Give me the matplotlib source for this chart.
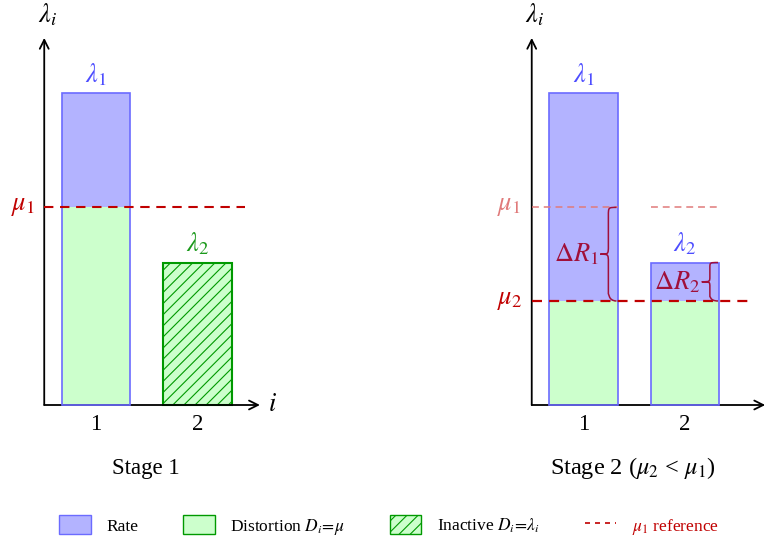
import matplotlib
matplotlib.use("Agg")
import matplotlib.pyplot as plt
from matplotlib.patches import Patch, PathPatch
from matplotlib.lines import Line2D
from matplotlib.path import Path

plt.rcParams['font.family'] = ['Liberation Serif', 'DejaVu Serif']
plt.rcParams['mathtext.fontset'] = 'stix'
plt.rcParams['hatch.linewidth'] = 0.8

# ---- data ----
categories = [1, 2]
tick_labels = ["1", "2"]
stage1_lambda = [3.0, 1.37]
stage1_mu = 1.9
stage2_lambda = [3.0, 1.37]
stage2_mu = 1.0
mu1_ref = 1.9
panel_titles = ["Stage 1", r"Stage 2 ($\mu_2$ < $\mu_1$)"]

# ---- styles ----
BLUE_FILL = '#b3b3ff'
BLUE_EDGE = '#6b6bff'
BLUE_TXT = '#4d4dff'
GREEN_FILL = '#ccffcc'
GREEN_EDGE = '#009900'
GREEN_TXT = '#1a991a'
RED = '#c00000'
RED_FADE = '#e07a7a'
BRACE = '#a0103a'
W = 0.67
X0 = 0.49
DASH = (0, (4.5, 3.2))
MFS = 19

fig = plt.figure(figsize=(7.78, 5.40), dpi=100)
ax1 = fig.add_axes([0, 0, 0.5, 1])
ax2 = fig.add_axes([0.5, 0, 0.5, 1])
ax1.set_xlim(1 - 96 / 101.5, 1 + 293 / 101.5)
ax2.set_xlim(1 - 194.5 / 101.5, 1 + 194.5 / 101.5)
for ax in (ax1, ax2):
    ax.set_ylim(-135 / 104, 405 / 104)
    ax.axis('off')


def axes_arrows(ax, xend, ilabel_x):
    ax.annotate('', xy=(xend, 0), xytext=(X0, 0),
                arrowprops=dict(arrowstyle='->', lw=1.3, color='black',
                                shrinkA=0, shrinkB=0, mutation_scale=16))
    ax.annotate('', xy=(X0, 3.53), xytext=(X0, 0),
                arrowprops=dict(arrowstyle='->', lw=1.3, color='black',
                                shrinkA=0, shrinkB=0, mutation_scale=16))
    ax.text(X0 + 0.03, 3.75, r'$\lambda_i$', fontsize=MFS, ha='center', va='center')
    ax.text(ilabel_x, 0, r'$i$', fontsize=MFS, ha='center', va='center', clip_on=False)
    for c, t in zip(categories, tick_labels):
        ax.text(c, -0.19, t, fontsize=16.5, ha='center', va='center')


def brace(ax, x, y0, y1, w=0.15, q=0.07, color=BRACE):
    ym = (y0 + y1) / 2
    xm = x - w / 2
    xt = x - w
    verts = [(x, y0), (xm, y0), (xm, y0 + q), (xm, y0 + q),
             (xm, ym - q),
             (xm, ym), (xm, ym), (xt, ym),
             (xm, ym), (xm, ym), (xm, ym + q),
             (xm, y1 - q),
             (xm, y1), (xm, y1), (x, y1)]
    codes = [Path.MOVETO, Path.CURVE4, Path.CURVE4, Path.CURVE4,
             Path.LINETO,
             Path.CURVE4, Path.CURVE4, Path.CURVE4,
             Path.CURVE4, Path.CURVE4, Path.CURVE4,
             Path.LINETO,
             Path.CURVE4, Path.CURVE4, Path.CURVE4]
    ax.add_patch(PathPatch(Path(verts, codes), fill=False, edgecolor=color, lw=1.1, zorder=6))
    return xt


# ---- Stage 1 ----
ax1.bar(categories[0], stage1_lambda[0], width=W, color=BLUE_FILL, edgecolor='none', zorder=2)
ax1.bar(categories[0], stage1_mu, width=W, color=GREEN_FILL, edgecolor='none', zorder=3)
ax1.bar(categories[0], stage1_lambda[0], width=W, fill=False, edgecolor=BLUE_EDGE, lw=1.2, zorder=4)
ax1.bar(categories[1], stage1_lambda[1], width=W, color=GREEN_FILL, edgecolor=GREEN_EDGE,
        hatch='///', lw=1.5, zorder=3)
ax1.text(categories[0], stage1_lambda[0] + 0.18, r'$\lambda_1$', color=BLUE_TXT, fontsize=MFS,
         ha='center', va='center')
ax1.text(categories[1], stage1_lambda[1] + 0.18, r'$\lambda_2$', color=GREEN_TXT, fontsize=MFS,
         ha='center', va='center')
ax1.plot([X0, 2.47], [stage1_mu, stage1_mu], color=RED, lw=1.5, ls=DASH, zorder=5)
ax1.text(0.40, stage1_mu, r'$\mu_1$', color=RED, fontsize=MFS, ha='right', va='center')
axes_arrows(ax1, 2.615, 2.74)
ax1.text(1.49, -0.606, panel_titles[0], fontsize=16.5, ha='center', va='center')

# ---- Stage 2 ----
for c, lam in zip(categories, stage2_lambda):
    ax2.bar(c, lam, width=W, color=BLUE_FILL, edgecolor='none', zorder=2)
    ax2.bar(c, stage2_mu, width=W, color=GREEN_FILL, edgecolor='none', zorder=3)
    ax2.bar(c, lam, width=W, fill=False, edgecolor=BLUE_EDGE, lw=1.2, zorder=4)
for c, lam, name in zip(categories, stage2_lambda, [r'$\lambda_1$', r'$\lambda_2$']):
    ax2.text(c, lam + 0.18, name, color=BLUE_TXT, fontsize=MFS, ha='center', va='center')

ax2.plot([X0, categories[0] + W / 2], [mu1_ref, mu1_ref], color=RED_FADE, lw=1.1, ls=DASH, zorder=5)
ax2.plot([categories[1] - W / 2, categories[1] + W / 2], [mu1_ref, mu1_ref], color=RED_FADE,
         lw=1.1, ls=DASH, zorder=5)
ax2.plot([X0, 2.64], [stage2_mu, stage2_mu], color=RED, lw=1.6, ls=DASH, zorder=5)
ax2.text(0.385, mu1_ref, r'$\mu_1$', color=RED_FADE, fontsize=MFS, ha='right', va='center')
ax2.text(0.40, stage2_mu, r'$\mu_2$', color=RED, fontsize=MFS, ha='right', va='center')

xt1 = brace(ax2, categories[0] + W / 2 - 0.01, stage2_mu, mu1_ref, w=0.16, q=0.08)
ax2.text(xt1 - 0.02, (stage2_mu + mu1_ref) / 2, r'$\Delta R_1$', color=BRACE, fontsize=MFS,
         ha='right', va='center', zorder=7)
xt2 = brace(ax2, categories[1] + W / 2 - 0.01, stage2_mu, stage2_lambda[1], w=0.16, q=0.05)
ax2.text(xt2 - 0.02, (stage2_mu + stage2_lambda[1]) / 2, r'$\Delta R_2$', color=BRACE, fontsize=MFS,
         ha='right', va='center', zorder=7)
axes_arrows(ax2, 2.79, 2.99)
ax2.text(1.49, -0.606, panel_titles[1], fontsize=17.5, ha='center', va='center')

# ---- legend ----
handles = [
    Patch(facecolor=BLUE_FILL, edgecolor=BLUE_EDGE, lw=1.0),
    Patch(facecolor=GREEN_FILL, edgecolor=GREEN_EDGE, lw=1.0),
    Patch(facecolor=GREEN_FILL, edgecolor=GREEN_EDGE, hatch='///', lw=1.0),
    Line2D([0], [0], color=RED, lw=1.2, ls=(0, (3, 3))),
]
labels = ['Rate', r'Distortion $D_i\!=\!\mu$', r'Inactive $D_i\!=\!\lambda_i$', r'$\mu_1$ reference']
leg = fig.legend(handles, labels, loc='center', bbox_to_anchor=(0.5, 1 - 526 / 540), ncol=4,
                 frameon=False, fontsize=12.5, handlelength=1.8, handleheight=1.3,
                 columnspacing=2.6, handletextpad=0.9)
leg.get_texts()[3].set_color(RED)

fig.savefig('out.png', dpi=100)
